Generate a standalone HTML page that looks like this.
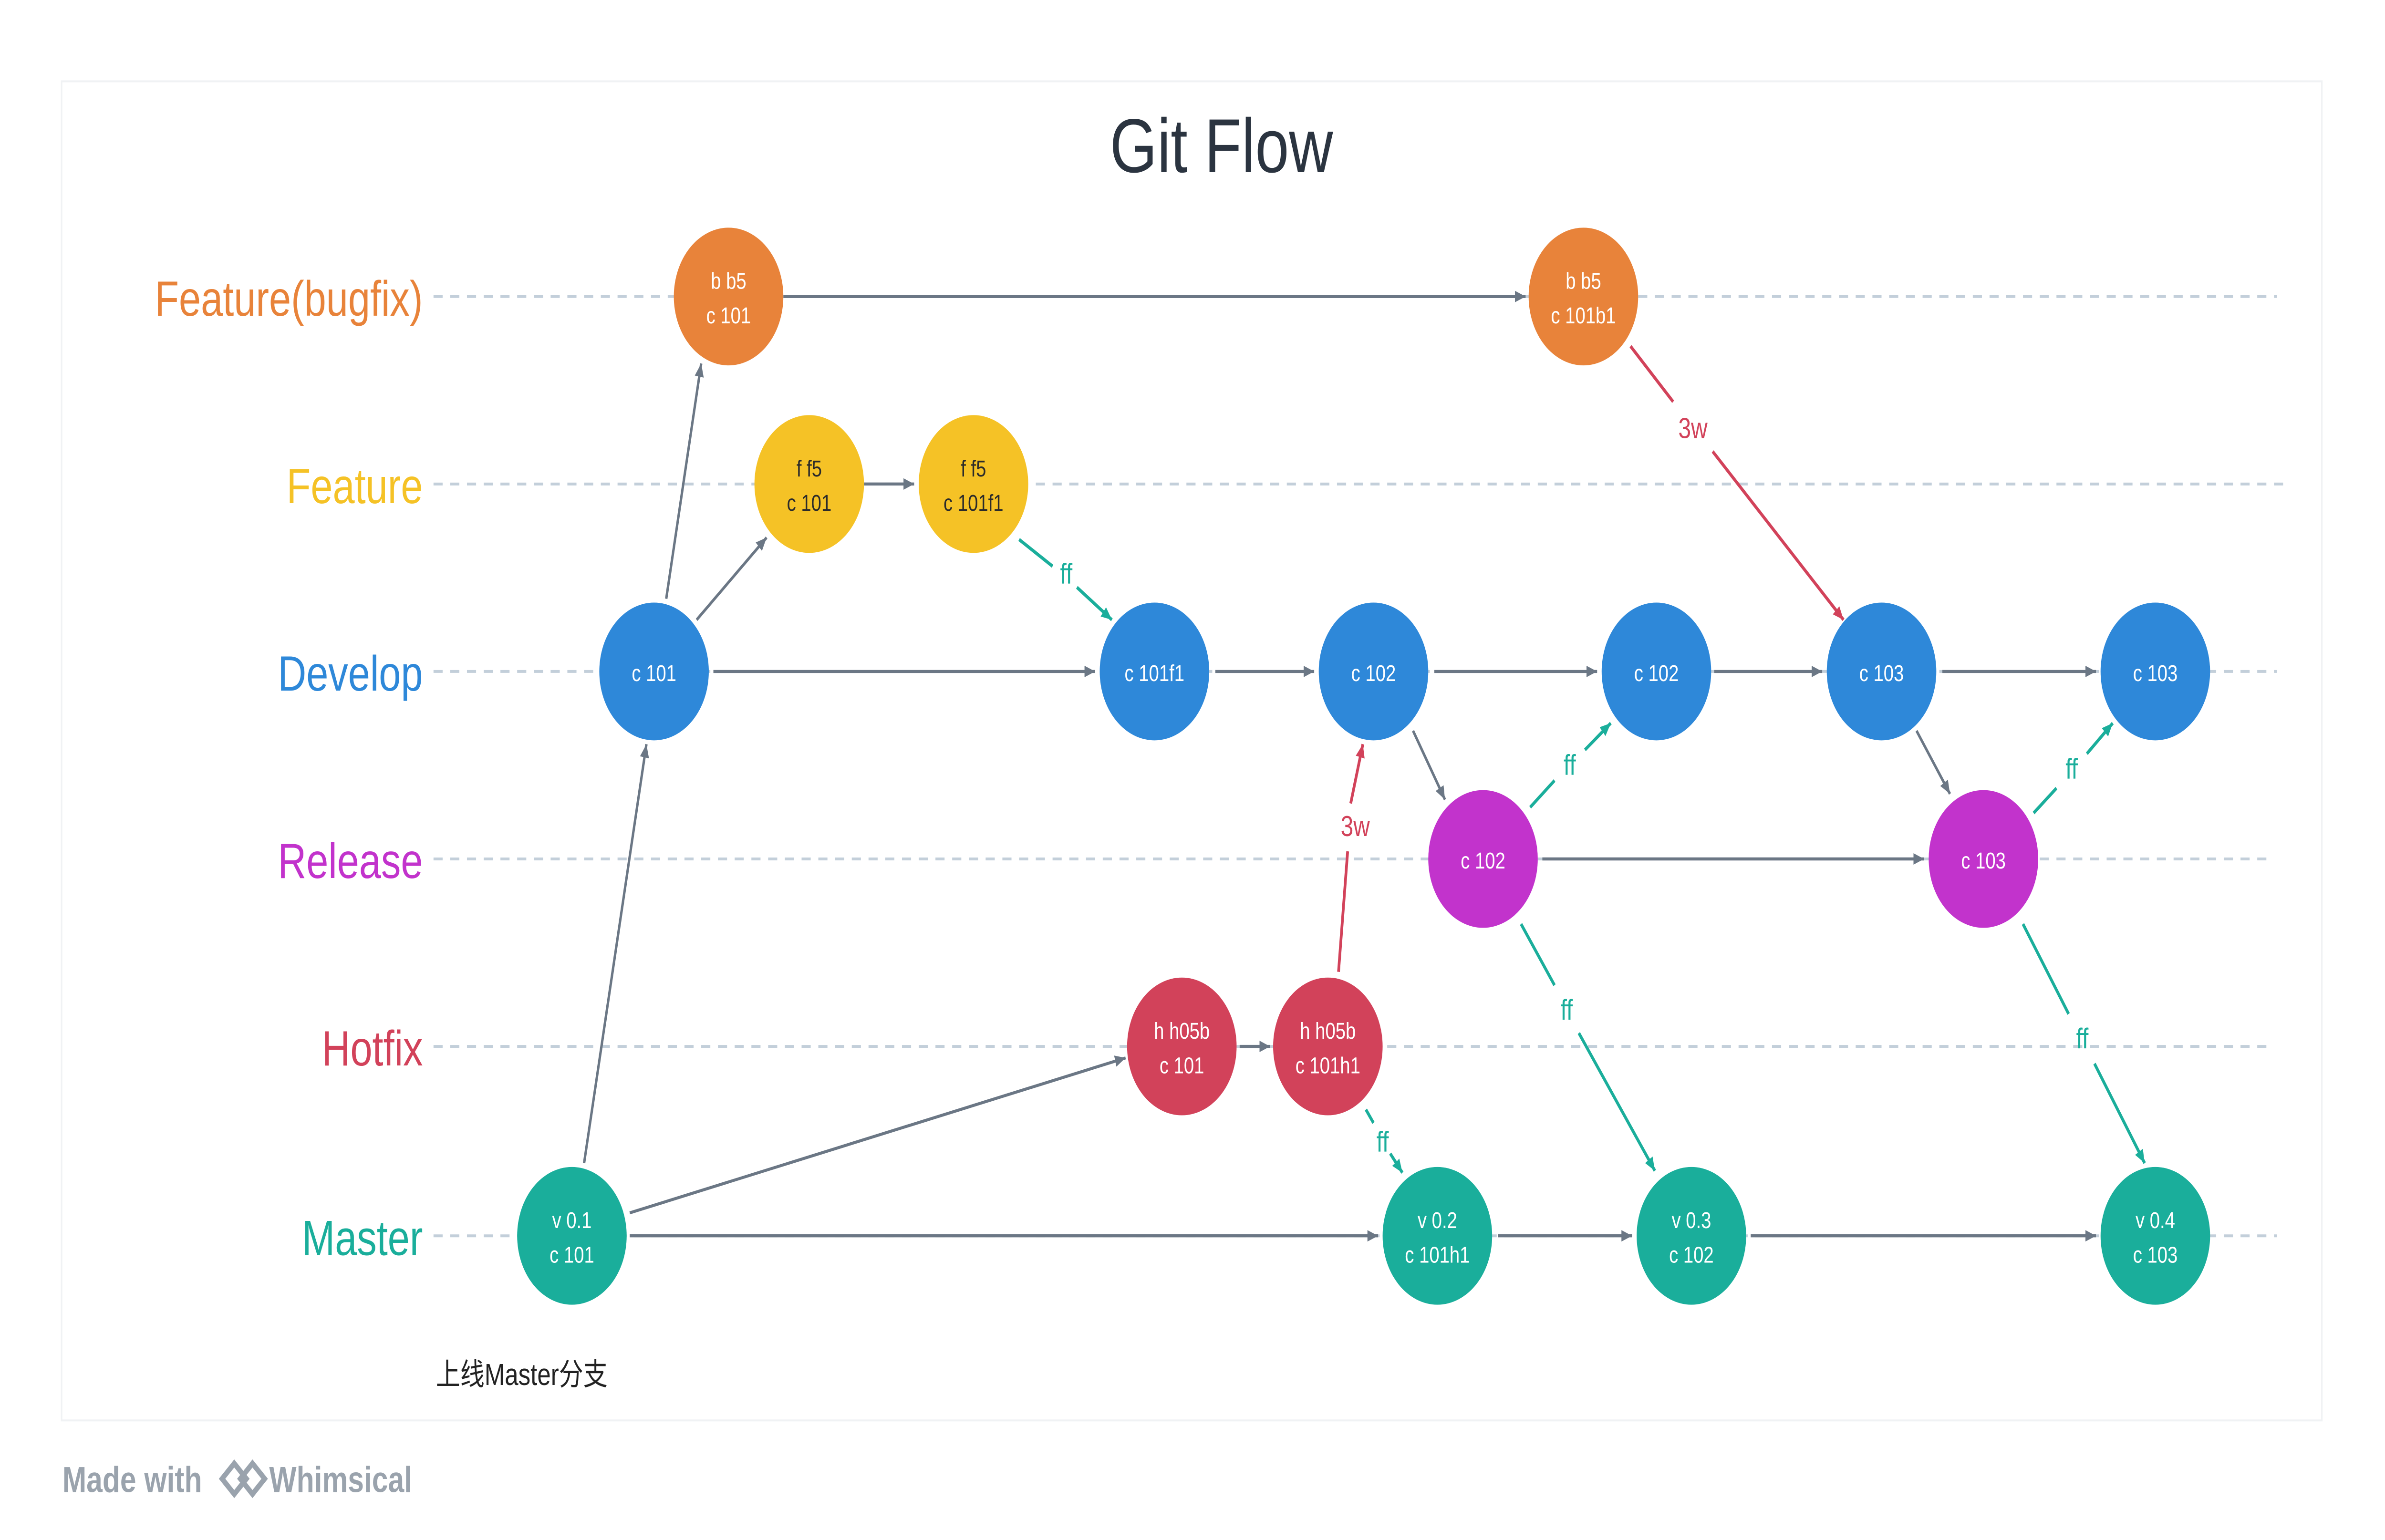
<!DOCTYPE html>
<html><head><meta charset="utf-8"><style>
html,body{margin:0;padding:0;background:#fff;overflow:hidden;width:100vw;height:100vh;}
svg{display:block;width:100vw;height:100vh;}
text{font-family:"Liberation Sans","Noto Sans CJK SC",sans-serif;}
</style></head><body>
<svg viewBox="0 0 1568 805" preserveAspectRatio="none" xmlns="http://www.w3.org/2000/svg">
<defs>
<marker id="ag" markerWidth="8" markerHeight="8" refX="7" refY="4" orient="auto" markerUnits="userSpaceOnUse"><path d="M0,1 L7,4 L0,7 z" fill="#6b7785"/></marker>
<marker id="agr" markerWidth="8" markerHeight="8" refX="7" refY="4" orient="auto" markerUnits="userSpaceOnUse"><path d="M0,1 L7,4 L0,7 z" fill="#1aae9b"/></marker>
<marker id="ar" markerWidth="8" markerHeight="8" refX="7" refY="4" orient="auto" markerUnits="userSpaceOnUse"><path d="M0,1 L7,4 L0,7 z" fill="#d2425a"/></marker>
</defs>
<rect x="0" y="0" width="1568" height="805" fill="#fff"/>
<rect x="40.5" y="42.5" width="1486" height="700" fill="#fff" stroke="#f0f2f4"/>
<text x="803" y="90" font-size="40" text-anchor="middle" fill="#2b3440">Git Flow</text>
<g font-size="26" text-anchor="end">
<text x="278" y="165" fill="#e8833a">Feature(bugfix)</text>
<text x="278" y="263" fill="#f5c226">Feature</text>
<text x="278" y="361" fill="#2e88d9">Develop</text>
<text x="278" y="459" fill="#c233cc">Release</text>
<text x="278" y="557" fill="#d2425a">Hotfix</text>
<text x="278" y="656" fill="#1aae9b">Master</text>
</g>
<g stroke="#c3cfda" stroke-width="1.5" stroke-dasharray="6,5">
<line x1="285" y1="155" x2="1497" y2="155"/><line x1="285" y1="253" x2="1505" y2="253"/>
<line x1="285" y1="351" x2="1497" y2="351"/><line x1="285" y1="449" x2="1493" y2="449"/>
<line x1="285" y1="547" x2="1493" y2="547"/><line x1="285" y1="646" x2="1497" y2="646"/>
</g>
<g stroke="#6b7785" stroke-width="1.6" marker-end="url(#ag)">
<line x1="515" y1="155" x2="1003" y2="155"/>
<line x1="384" y1="608" x2="425" y2="389"/>
<line x1="438" y1="313" x2="461" y2="190"/>
<line x1="458" y1="324" x2="504" y2="281"/>
<line x1="568" y1="253" x2="601" y2="253"/>
<line x1="469" y1="351" x2="720" y2="351"/>
<line x1="799" y1="351" x2="864" y2="351"/>
<line x1="943" y1="351" x2="1050" y2="351"/>
<line x1="1127" y1="351" x2="1198" y2="351"/>
<line x1="1277" y1="351" x2="1378" y2="351"/>
<line x1="929" y1="382" x2="950" y2="418"/>
<line x1="1014" y1="449" x2="1265" y2="449"/>
<line x1="1260" y1="382" x2="1282" y2="415"/>
<line x1="414" y1="634" x2="740" y2="553"/>
<line x1="815" y1="547" x2="835" y2="547"/>
<line x1="414" y1="646" x2="906" y2="646"/>
<line x1="985" y1="646" x2="1073" y2="646"/>
<line x1="1151" y1="646" x2="1378" y2="646"/>
</g>
<g stroke="#1aae9b" stroke-width="1.8" marker-end="url(#agr)">
<line x1="708" y1="307" x2="731" y2="324"/>
<line x1="1042" y1="392" x2="1059" y2="378"/>
<line x1="1372" y1="394" x2="1389" y2="378"/>
<line x1="1038" y1="540" x2="1088" y2="612"/>
<line x1="1377" y1="556" x2="1410" y2="608"/>
<line x1="914" y1="603" x2="922" y2="613"/>
</g>
<g stroke="#1aae9b" stroke-width="1.8"><line x1="670" y1="282" x2="692" y2="296"/><line x1="1006" y1="422" x2="1022" y2="408"/><line x1="1337" y1="425" x2="1352" y2="412"/><line x1="1000" y1="483" x2="1022" y2="515"/><line x1="1330" y1="483" x2="1360" y2="530"/><line x1="898" y1="580" x2="903" y2="587"/></g>
<g stroke="#d2425a" stroke-width="1.8" marker-end="url(#ar)">
<line x1="1126" y1="236" x2="1212" y2="324"/>
<line x1="888" y1="420" x2="896" y2="389"/>
</g>
<g stroke="#d2425a" stroke-width="1.8"><line x1="1072" y1="181" x2="1100" y2="210"/><line x1="880" y1="508" x2="886" y2="445"/></g>
<g font-size="15" text-anchor="middle">
<text x="701" y="305" fill="#1aae9b">ff</text>
<text x="1032" y="405" fill="#1aae9b">ff</text>
<text x="1362" y="407" fill="#1aae9b">ff</text>
<text x="1030" y="533" fill="#1aae9b">ff</text>
<text x="1369" y="548" fill="#1aae9b">ff</text>
<text x="909" y="602" fill="#1aae9b">ff</text>
<text x="1113" y="229" fill="#d2425a">3w</text>
<text x="891" y="437" fill="#d2425a">3w</text>
</g>
<g font-size="12" text-anchor="middle">
<g fill="#e8833a"><circle cx="479" cy="155" r="36"/><circle cx="1041" cy="155" r="36"/></g>
<g fill="#fff"><text x="479" y="151">b b5</text><text x="479" y="169">c 101</text><text x="1041" y="151">b b5</text><text x="1041" y="169">c 101b1</text></g>
<g fill="#f5c226"><circle cx="532" cy="253" r="36"/><circle cx="640" cy="253" r="36"/></g>
<g fill="#2b2b2b"><text x="532" y="249">f f5</text><text x="532" y="267">c 101</text><text x="640" y="249">f f5</text><text x="640" y="267">c 101f1</text></g>
<g fill="#2e88d9"><circle cx="430" cy="351" r="36"/><circle cx="759" cy="351" r="36"/><circle cx="903" cy="351" r="36"/><circle cx="1089" cy="351" r="36"/><circle cx="1237" cy="351" r="36"/><circle cx="1417" cy="351" r="36"/></g>
<g fill="#fff"><text x="430" y="356">c 101</text><text x="759" y="356">c 101f1</text><text x="903" y="356">c 102</text><text x="1089" y="356">c 102</text><text x="1237" y="356">c 103</text><text x="1417" y="356">c 103</text></g>
<g fill="#c233cc"><circle cx="975" cy="449" r="36"/><circle cx="1304" cy="449" r="36"/></g>
<g fill="#fff"><text x="975" y="454">c 102</text><text x="1304" y="454">c 103</text></g>
<g fill="#d2425a"><circle cx="777" cy="547" r="36"/><circle cx="873" cy="547" r="36"/></g>
<g fill="#fff"><text x="777" y="543">h h05b</text><text x="777" y="561">c 101</text><text x="873" y="543">h h05b</text><text x="873" y="561">c 101h1</text></g>
<g fill="#1aae9b"><circle cx="376" cy="646" r="36"/><circle cx="945" cy="646" r="36"/><circle cx="1112" cy="646" r="36"/><circle cx="1417" cy="646" r="36"/></g>
<g fill="#fff"><text x="376" y="642">v 0.1</text><text x="376" y="660">c 101</text><text x="945" y="642">v 0.2</text><text x="945" y="660">c 101h1</text><text x="1112" y="642">v 0.3</text><text x="1112" y="660">c 102</text><text x="1417" y="642">v 0.4</text><text x="1417" y="660">c 103</text></g>
</g>
<text x="343" y="724" font-size="16" text-anchor="middle" fill="#222">上线Master分支</text>
<g fill="#9aa3ad" font-size="19" font-weight="bold">
<text x="41" y="780">Made with</text>
<path d="M146,773 l8,-8 l8,8 l-8,8 z M158,773 l8,-8 l8,8 l-8,8 z" fill="none" stroke="#9aa3ad" stroke-width="3"/>
<text x="177" y="780">Whimsical</text>
</g>
</svg>
</body></html>
